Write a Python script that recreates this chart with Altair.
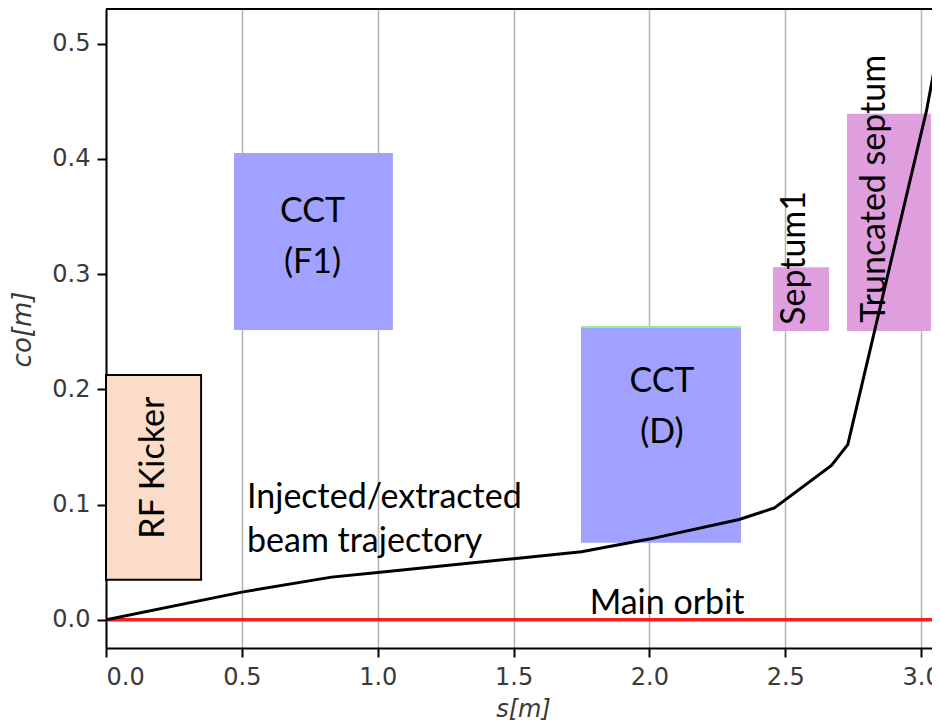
import altair as alt
import pandas as pd

# Beam trajectory (s [m], co [m])
traj_s = [0.0, 0.5, 0.83, 1.0, 1.5, 1.75, 2.0, 2.33, 2.46, 2.67, 2.73, 2.83, 3.02, 3.07]
traj_co = [0.0, 0.024, 0.037, 0.041, 0.053, 0.059, 0.070, 0.087, 0.097, 0.134, 0.152, 0.252, 0.442, 0.505]

# Magnet boxes
mag_names = ["CCT (F1)", "CCT (D)", "Septum1", "Truncated septum"]
mag_kind = ["CCT", "CCT", "Septum", "Septum"]
mag_s0 = [0.471, 1.748, 2.455, 2.727]
mag_s1 = [1.056, 2.337, 2.661, 3.036]
mag_c0 = [0.2515, 0.0668, 0.2506, 0.2506]
mag_c1 = [0.405, 0.254, 0.306, 0.439]

# RF kicker box
kick_s = [0.0, 0.35]
kick_co = [0.0347, 0.2125]

# Horizontal labels
hlab_text = ["CCT", "(F1)", "CCT", "(D)", "Main orbit"]
hlab_s = [0.760, 0.760, 2.046, 2.046, 2.065]
hlab_co = [0.3455, 0.301, 0.198, 0.1535, 0.005]
# Left-aligned labels
llab_text = ["Injected/extracted", "beam trajectory"]
llab_s = [0.519, 0.519]
llab_co = [0.097, 0.059]
# Rotated labels
rlab_text = ["RF Kicker", "Septum1", "Truncated septum"]
rlab_s = [0.177, 2.536, 2.830]
rlab_co = [0.132, 0.314, 0.374]

x_ticks = [0.0, 0.5, 1.0, 1.5, 2.0, 2.5, 3.0]
y_ticks = [0.0, 0.1, 0.2, 0.3, 0.4, 0.5]

W, H = 826, 639
xs = alt.Scale(domain=[0, 3.040], nice=False, zero=False)
ys = alt.Scale(domain=[-0.0245, 0.530], nice=False, zero=False)

traj = pd.DataFrame({"s": traj_s, "co": traj_co})
mags = pd.DataFrame({"name": mag_names, "kind": mag_kind, "s0": mag_s0, "s1": mag_s1,
                     "c0": mag_c0, "c1": mag_c1})
kick = pd.DataFrame({"s0": [kick_s[0]], "s1": [kick_s[1]], "c0": [kick_co[0]], "c1": [kick_co[1]]})
hl = pd.DataFrame({"t": hlab_text, "s": hlab_s, "co": hlab_co})
ll = pd.DataFrame({"t": llab_text, "s": llab_s, "co": llab_co})
rl = pd.DataFrame({"t": rlab_text, "s": rlab_s, "co": rlab_co})

xaxis = alt.Axis(values=x_ticks, format=".1f", title="s[m]", grid=True,
                 gridColor="#b4b4b4", gridWidth=1.5, labelPadding=8, titleFontSize=24,
                 titleX=417, titleY=68, titleBaseline="alphabetic", titleAlign="center")
yaxis = alt.Axis(values=y_ticks, format=".1f", title="co[m]", grid=False, labelPadding=7,
                 titleFontSize=26,
                 titleX=-84, titleY=320, titleAlign="center", titleBaseline="middle", titleAngle=270)

base_boxes = alt.Chart(mags).mark_rect(opacity=1).encode(
    x=alt.X("s0:Q", scale=xs, axis=xaxis),
    x2="s1:Q",
    y=alt.Y("c0:Q", scale=ys, axis=yaxis),
    y2="c1:Q",
    color=alt.Color("kind:N", scale=alt.Scale(domain=["CCT", "Septum"], range=["#a1a1ff", "#df9fdf"]),
                    legend=None),
)

green_edge = alt.Chart(mags[mags["name"] == "CCT (D)"]).mark_rule(color="#90ee90", strokeWidth=2).encode(
    x=alt.X("s0:Q", scale=xs), x2="s1:Q", y=alt.Y("c1:Q", scale=ys)
)

kicker = alt.Chart(kick).mark_rect(fill="#fadcc8", stroke="black", strokeWidth=2).encode(
    x=alt.X("s0:Q", scale=xs), x2="s1:Q", y=alt.Y("c0:Q", scale=ys), y2="c1:Q"
)

main_orbit = alt.Chart(pd.DataFrame({"co": [0.0]})).mark_rule(color="#f02020", strokeWidth=3.5).encode(
    y=alt.Y("co:Q", scale=ys)
)

line = alt.Chart(traj).mark_line(color="black", strokeWidth=3, clip=True).encode(
    x=alt.X("s:Q", scale=xs), y=alt.Y("co:Q", scale=ys)
)

txt_h = alt.Chart(hl).mark_text(font="Lato", fontSize=34, color="black", align="center",
                                baseline="alphabetic").encode(
    x=alt.X("s:Q", scale=xs), y=alt.Y("co:Q", scale=ys), text="t:N"
)
txt_l = alt.Chart(ll).mark_text(font="Lato", fontSize=34, color="black", align="left",
                                baseline="alphabetic").encode(
    x=alt.X("s:Q", scale=xs), y=alt.Y("co:Q", scale=ys), text="t:N"
)
txt_r = alt.Chart(rl).mark_text(font="Lato", fontSize=34, color="black", align="center",
                                baseline="middle", angle=270).encode(
    x=alt.X("s:Q", scale=xs), y=alt.Y("co:Q", scale=ys), text="t:N"
)

top_frame = alt.Chart(pd.DataFrame({"a": [0]})).mark_rule(color="black", strokeWidth=2).encode(
    x=alt.value(0), x2=alt.value(W), y=alt.value(0)
)

chart = alt.layer(
    base_boxes, green_edge, kicker, main_orbit, line, txt_h, txt_l, txt_r, top_frame
).properties(
    width=W, height=H,
    autosize=alt.AutoSizeParams(type="none"),
    padding={"left": 98, "top": 1, "right": 0, "bottom": 75},
).configure_view(stroke=None).configure_axis(
    labelFont="DejaVu Sans", labelFontSize=24, labelColor="#3a3a3a",
    titleFont="DejaVu Sans", titleFontStyle="italic", titleFontWeight="normal",
    titleColor="#3a3a3a",
    domainColor="black", domainWidth=2, tickColor="black", tickWidth=2, tickSize=9,
)

chart.save("out.html", embed_options={"renderer": "svg", "actions": False})
